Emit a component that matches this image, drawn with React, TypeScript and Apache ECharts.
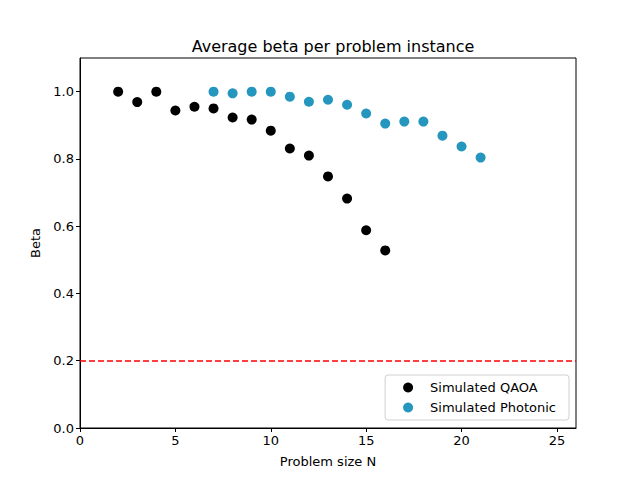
import React, { useEffect, useRef } from "react";
import * as echarts from "echarts";

const qaoaN = [2, 3, 4, 5, 6, 7, 8, 9, 10, 11, 12, 13, 14, 15, 16];
const qaoaBeta = [1.0, 0.969, 1.0, 0.944, 0.955, 0.95, 0.923, 0.917, 0.884, 0.831, 0.81, 0.748, 0.682, 0.588, 0.528];
const photN = [7, 8, 9, 10, 11, 12, 13, 14, 15, 16, 17, 18, 19, 20, 21];
const photBeta = [1.0, 0.995, 1.0, 1.0, 0.985, 0.97, 0.976, 0.961, 0.935, 0.905, 0.911, 0.911, 0.869, 0.837, 0.804];
const threshold = 0.2;

const FONT = "DejaVu Sans";

export default function App() {
  const ref = useRef<HTMLDivElement>(null);
  useEffect(() => {
    const chart = echarts.init(ref.current!, null, { renderer: "svg" });
    chart.setOption({
      animation: false,
      backgroundColor: "#ffffff",
      textStyle: { fontFamily: FONT },
      title: {
        text: "Average beta per problem instance",
        left: 328,
        top: 33,
        textAlign: "center",
        textStyle: { fontFamily: FONT, fontSize: 16, fontWeight: "normal", color: "#000" },
      },
      grid: { left: 80, right: 64, top: 58, bottom: 52, show: true, borderColor: "#000", borderWidth: 1 },
      xAxis: {
        type: "value",
        min: 0,
        max: 26,
        interval: 5,
        name: "Problem size N",
        nameLocation: "middle",
        nameGap: 27,
        nameTextStyle: { fontFamily: FONT, fontSize: 13, color: "#000" },
        axisLine: { show: true, lineStyle: { color: "#000" } },
        axisTick: { show: true, length: 4, lineStyle: { color: "#000" } },
        axisLabel: { showMaxLabel: false, fontFamily: FONT, fontSize: 13, color: "#000", margin: 6 },
        splitLine: { show: false },
      },
      yAxis: {
        type: "value",
        min: 0,
        max: 1.1,
        interval: 0.2,
        name: "Beta",
        nameLocation: "middle",
        nameGap: 38,
        nameTextStyle: { fontFamily: FONT, fontSize: 13, color: "#000" },
        axisLine: { show: true, lineStyle: { color: "#000" } },
        axisTick: { show: true, length: 4, lineStyle: { color: "#000" } },
        axisLabel: {
          showMaxLabel: false,
          fontFamily: FONT,
          fontSize: 13,
          color: "#000",
          margin: 6,
          formatter: (v: number) => v.toFixed(1),
        },
        splitLine: { show: false },
      },
      legend: {
        orient: "vertical",
        right: 71,
        bottom: 60,
        icon: "circle",
        itemWidth: 10,
        itemHeight: 10,
        itemGap: 7,
        padding: [6, 13, 6, 18],
        backgroundColor: "#fff",
        borderColor: "#d0d0d0",
        borderWidth: 1,
        borderRadius: 3,
        textStyle: { fontFamily: FONT, fontSize: 13, color: "#000", padding: [0, 0, 0, 12] },
        data: ["Simulated QAOA", "Simulated Photonic"],
      },
      series: [
        {
          name: "Simulated QAOA",
          type: "scatter",
          symbolSize: 10,
          itemStyle: { color: "#000000", opacity: 1 },
          data: qaoaN.map((n, i) => [n, qaoaBeta[i]]),
          markLine: {
            silent: true,
            symbol: "none",
            label: { show: false },
            lineStyle: { color: "#ff0000", type: [6, 3], width: 1.5 },
            data: [{ yAxis: threshold }],
          },
          z: 3,
        },
        {
          name: "Simulated Photonic",
          type: "scatter",
          symbolSize: 10,
          itemStyle: { color: "#2596be", opacity: 1 },
          data: photN.map((n, i) => [n, photBeta[i]]),
          z: 3,
        },
      ],
    });
    return () => chart.dispose();
  }, []);
  return <div ref={ref} style={{ position: "fixed", left: 0, top: 0, width: 640, height: 480 }} />;
}
